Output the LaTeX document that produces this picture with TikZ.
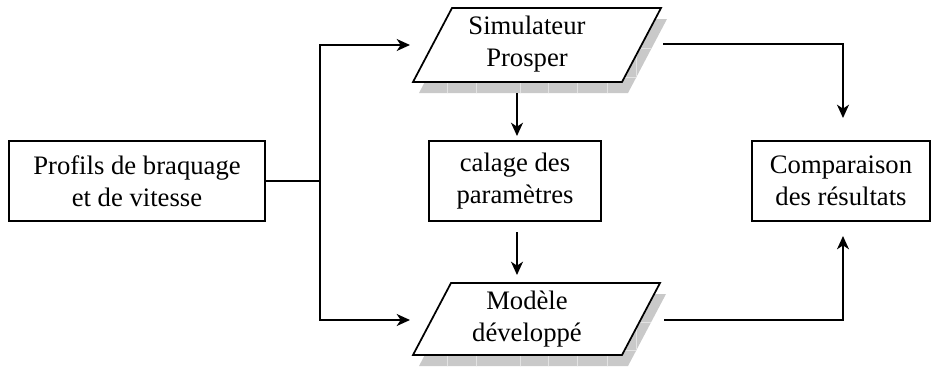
\documentclass[tikz,border=0pt]{standalone}
\usepackage{fontspec}
\setmainfont{Liberation Serif}
\usetikzlibrary{arrows.meta}
\begin{document}
\begin{tikzpicture}[x=0.75pt,y=-0.75pt,
  lw/.style={line width=1.3pt},
  boxnode/.style={draw,lw,rectangle,inner sep=0pt,minimum height=60pt,align=center,font=\fontsize{20}{24}\selectfont},
  txt/.style={inner sep=0pt,align=center,font=\fontsize{20}{24}\selectfont},
  arr/.style={lw,-{Stealth[length=10pt,width=9pt,inset=3pt]}},
  conn/.style={lw},
  shadowfill/.style={fill=gray!42},
  gridline/.style={draw=gray!22,line width=0.6pt},
  paral/.style={draw,lw,fill=white,line join=miter}
]
\useasboundingbox (0,0) rectangle (932,368);

% rectangles
\node[boxnode,minimum width=192pt] (prof) at (137,181) {Profils de braquage\\et de vitesse};
\node[boxnode,minimum width=129pt] (cal) at (515,181) {calage des\\paramètres};
\node[boxnode,minimum width=133.5pt] (comp) at (841,181) {Comparaison\\des résultats};

% top parallelogram shadow
\begin{scope}
  \clip (419,93) -- (628,93) -- (667,19) -- (458,19) -- cycle;
  \fill[shadowfill] (400,0) rectangle (700,100);
  \foreach \gx in {447,476,520,548,577,607,636} \draw[gridline] (\gx,0) -- (\gx,100);
  \foreach \gy in {48,77} \draw[gridline] (400,\gy) -- (700,\gy);
\end{scope}
\path[paral] (413,82) -- (622,82) -- (661,8) -- (452,8) -- cycle;
\node[txt] (sim) at (527,44) {Simulateur\\Prosper};

% bottom parallelogram shadow
\begin{scope}
  \clip (419,366) -- (628,366) -- (666,294) -- (457,294) -- cycle;
  \fill[shadowfill] (400,270) rectangle (700,368);
  \foreach \gx in {447,476,520,548,577,607,636} \draw[gridline] (\gx,270) -- (\gx,368);
  \foreach \gy in {322,350} \draw[gridline] (400,\gy) -- (700,\gy);
\end{scope}
\path[paral] (413,355) -- (622,355) -- (660,283) -- (451,283) -- cycle;
\node[txt] (mod) at (527,319) {Modèle\\développé};

% connector coordinates
\coordinate (fork) at (320,181);
\coordinate (simin) at (410,45);
\coordinate (modin) at (410,320);
\coordinate (simbot) at (517,93);
\coordinate (caltop) at (517,136);
\coordinate (calbot) at (517,232);
\coordinate (modtop) at (517,275);
\coordinate (simout) at (663,44);
\coordinate (modout) at (664,320);
\coordinate (comptop) at (843,118);
\coordinate (compbot) at (843,236);

% connectors
\draw[conn] (prof.east) -- (fork);
\draw[arr] (fork) |- (simin);
\draw[arr] (fork) |- (modin);
\draw[arr] (simbot) -- (caltop);
\draw[arr] (calbot) -- (modtop);
\draw[arr] (simout) -| (comptop);
\draw[arr] (modout) -| (compbot);
\end{tikzpicture}
\end{document}
